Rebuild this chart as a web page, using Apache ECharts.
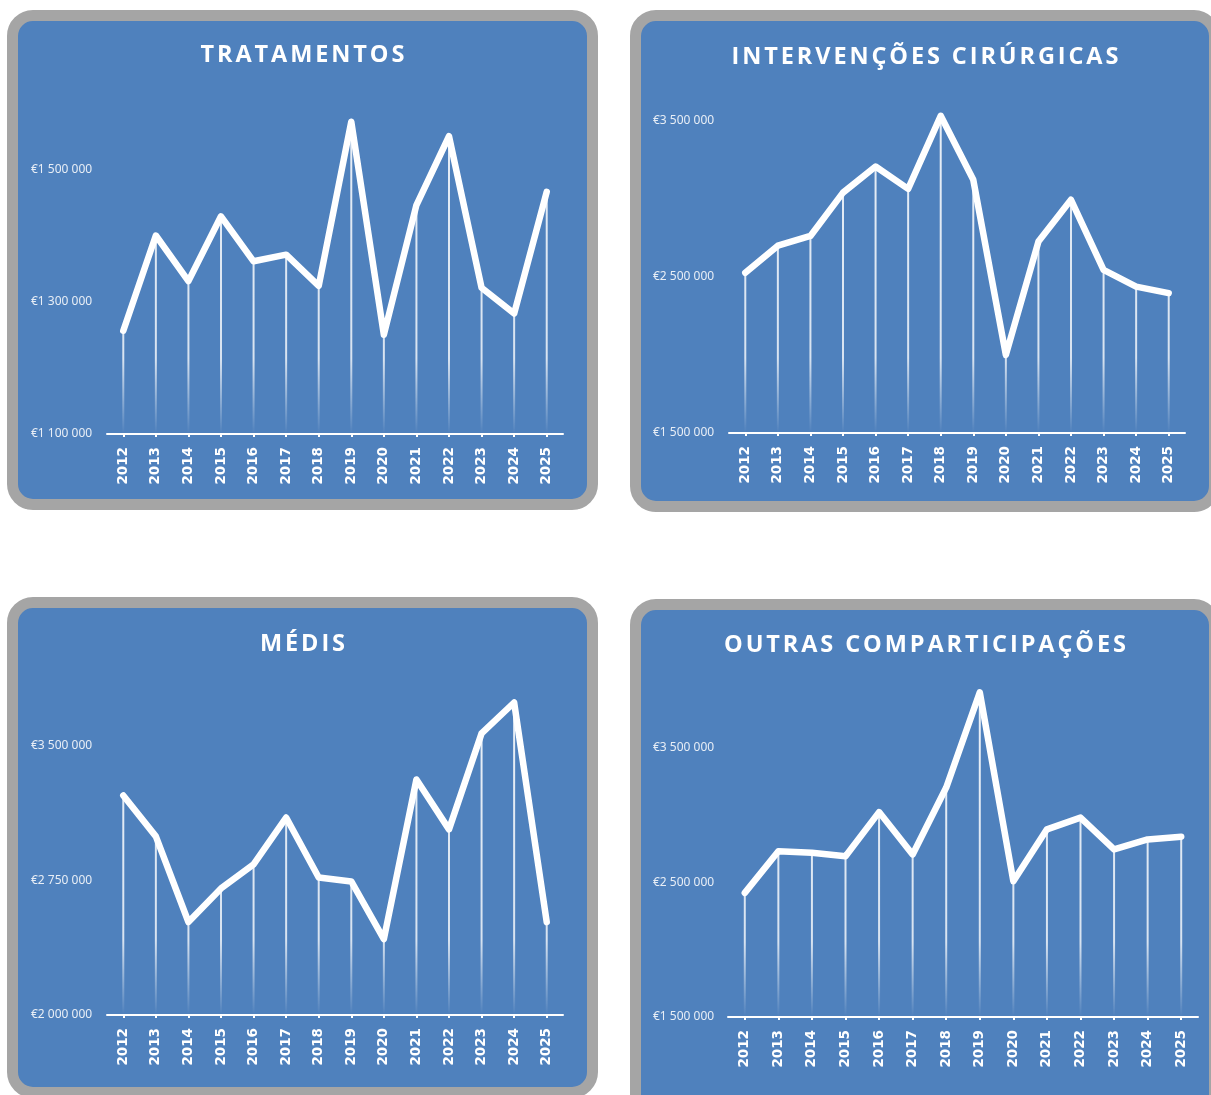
<!DOCTYPE html>
<html>
<head>
<meta charset="utf-8">
<script src="https://cdn.jsdelivr.net/npm/echarts@6/dist/echarts.min.js"></script>
<style>
  html, body { margin:0; padding:0; background:#ffffff; width:1211px; height:1095px; overflow:hidden; }
  .panel { position:absolute; box-sizing:border-box; border:11px solid #A5A5A5; border-radius:26px; background:#4F81BD; overflow:hidden; }
  .chart { position:absolute; left:0; top:0; width:100%; height:100%; }
  .title { position:absolute; left:0; right:0; padding-left:2.9px; text-align:center; color:#ffffff; font-family:'Open Sans', sans-serif; font-weight:700; font-size:23.5px; letter-spacing:2.9px; line-height:30px; z-index:2; white-space:nowrap; }
</style>
</head>
<body>
<div class="panel" style="left:7px;top:10px;width:591px;height:500px;">
  <div class="title" style="top:17px;">TRATAMENTOS</div>
  <div class="chart" id="c1"></div>
</div>
<div class="panel" style="left:630px;top:10px;width:590px;height:502px;">
  <div class="title" style="top:19px;">INTERVENÇÕES CIRÚRGICAS</div>
  <div class="chart" id="c2"></div>
</div>
<div class="panel" style="left:7px;top:597px;width:591px;height:501px;">
  <div class="title" style="top:19px;">MÉDIS</div>
  <div class="chart" id="c3"></div>
</div>
<div class="panel" style="left:630px;top:599px;width:590px;height:530px;">
  <div class="title" style="top:18px;">OUTRAS COMPARTICIPAÇÕES</div>
  <div class="chart" id="c4"></div>
</div>
<script>
// ---- data ----
const years = ['2012','2013','2014','2015','2016','2017','2018','2019','2020','2021','2022','2023','2024','2025'];
const tratamentos = [1256000,1400000,1331000,1429000,1361000,1371000,1324000,1572000,1250000,1446000,1550000,1321000,1282000,1466000];
const intervencoes = [2524000,2698000,2760000,3037000,3204000,3061000,3528000,3119000,1999000,2724000,2991000,2543000,2436000,2394000];
const medis = [3223000,2995000,2518000,2705000,2839000,3100000,2766000,2744000,2423000,3312000,3034000,3569000,3741000,2518000];
const outras = [2421000,2730000,2719000,2693000,3020000,2706000,3202000,3908000,2507000,2892000,2979000,2743000,2817000,2838000];
const axisTRAT = {min:1100000, max:1700000, interval:200000};
const axisINT  = {min:1500000, max:4000000, interval:1000000};
const axisMED  = {min:2000000, max:4000000, interval:750000};
const axisOUT  = {min:1500000, max:4000000, interval:1000000};

function euro(v){
  return '€' + String(Math.round(v)).replace(/\B(?=(\d{3})+(?!\d))/g, ' ');
}

function build(id, values, ax, grid){
  const el = document.getElementById(id);
  const chart = echarts.init(el, null, {renderer:'canvas'});
  const H = el.clientHeight;
  const gTop = grid.top, gBot = H - grid.bottom;
  const h = gBot - gTop;
  const fadeStart = Math.max(0, (h - 75) / h);
  const grad = new echarts.graphic.LinearGradient(0, gTop, 0, gBot, [
    {offset:0, color:'rgba(255,255,255,0.9)'},
    {offset:fadeStart, color:'rgba(255,255,255,0.78)'},
    {offset:1, color:'rgba(255,255,255,0.0)'}
  ], true);
  chart.setOption({
    animation:false,
    backgroundColor:'transparent',
    grid:{left:grid.left, right:grid.right, top:grid.top, bottom:grid.bottom},
    xAxis:{
      type:'category', data:years, boundaryGap:true,
      axisLine:{show:true, lineStyle:{color:'#ffffff', width:2}},
      axisTick:{show:true, alignWithLabel:true, length:3, interval:0, lineStyle:{color:'#ffffff', width:2}},
      axisLabel:{interval:0, rotate:90, margin:13, color:'#ffffff', fontFamily:'DejaVu Sans', fontWeight:'bold', fontSize:13.5},
      splitLine:{show:false}
    },
    yAxis:{
      type:'value', min:ax.min, max:ax.max, interval:ax.interval,
      axisLine:{show:false}, axisTick:{show:false}, splitLine:{show:false},
      axisLabel:{showMaxLabel:false, align:'left', margin:grid.labelMargin, color:'#e8eef6', fontFamily:'Noto Sans', fontSize:12, formatter:euro}
    },
    series:[
      {type:'bar', data:values, barWidth:2, z:1, itemStyle:{color:grad}, silent:true},
      {type:'line', data:values, z:3, showSymbol:false, symbol:'none', silent:true,
       lineStyle:{color:'#ffffff', width:6.5, cap:'round', join:'round'}}
    ]
  });
}

build('c1', tratamentos, axisTRAT, {left:89, right:24, top:16, bottom:65, labelMargin:76});
build('c2', intervencoes, axisINT, {left:88, right:24, top:21, bottom:68, labelMargin:76});
build('c3', medis, axisMED, {left:89, right:24, top:48, bottom:72, labelMargin:76});
build('c4', outras, axisOUT, {left:87, right:11, top:70, bottom:101, labelMargin:75});
</script>
</body>
</html>
